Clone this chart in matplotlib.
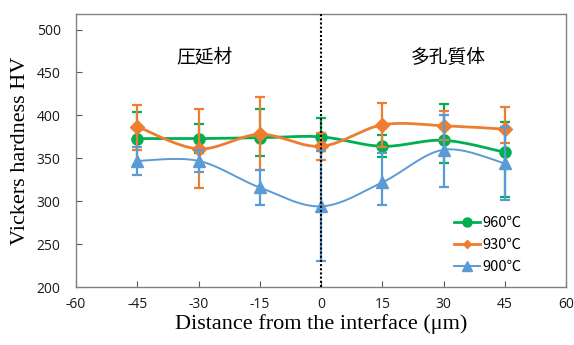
import numpy as np
import matplotlib
matplotlib.use("Agg")
import matplotlib.pyplot as plt

plt.rcParams["axes.unicode_minus"] = False

# ---- data ----
distance = [-45, -30, -15, 0, 15, 30, 45]

hv_960 = [373, 373, 374, 375, 364, 371, 357]
err_960_lo = [31, 17, 21, 16, 13, 27, 52]
err_960_hi = [31, 17, 33, 22, 13, 42, 35]

hv_930 = [387, 361, 378, 364, 389, 388, 384]
err_930_lo = [27, 46, 42, 16, 26, 17, 16]
err_930_hi = [25, 46, 43, 16, 26, 17, 26]

hv_900 = [347, 347, 316, 294, 322, 360, 344]
err_900_lo = [16, 13, 20, 64, 26, 44, 43]
err_900_hi = [16, 13, 20, 64, 34, 41, 43]

series_labels = ["960\u2103", "930\u2103", "900\u2103"]
x_ticks = [-60, -45, -30, -15, 0, 15, 30, 45, 60]
y_ticks = [200, 250, 300, 350, 400, 450, 500]
region_left = "圧延材"
region_right = "多孔質体"
xlabel = "Distance from the interface (\u03bcm)"
ylabel = "Vickers hardness HV"


def smooth(xs, ys, n=30):
    """Excel-like smoothed line (Catmull-Rom via cubic Bezier)."""
    P = np.column_stack([xs, ys]).astype(float)
    out = [P[0]]
    m = len(P)
    for i in range(m - 1):
        p0 = P[i - 1] if i > 0 else P[i]
        p1 = P[i]
        p2 = P[i + 1]
        p3 = P[i + 2] if i + 2 < m else P[i + 1]
        c1 = p1 + (p2 - p0) / 6.0
        c2 = p2 - (p3 - p1) / 6.0
        t = np.linspace(0, 1, n)[1:, None]
        seg = ((1 - t) ** 3) * p1 + 3 * ((1 - t) ** 2) * t * c1 + 3 * (1 - t) * t ** 2 * c2 + t ** 3 * p2
        out.extend(seg)
    out = np.array(out)
    return out[:, 0], out[:, 1]


fig = plt.figure(figsize=(5.74, 3.45), dpi=100)
ax = fig.add_axes([0.1324, 0.168, 0.854, 0.791])

colors = ["#00B050", "#ED7D31", "#5B9BD5"]
markers = ["o", "D", "^"]
msizes = [8, 7.5, 8]
lws = [2.0, 2.0, 1.4]
ys_all = [hv_960, hv_930, hv_900]
lo_all = [err_960_lo, err_930_lo, err_900_lo]
hi_all = [err_960_hi, err_930_hi, err_900_hi]

handles = []
for k in range(3):
    sx, sy = smooth(distance, ys_all[k])
    ax.plot(sx, sy, color=colors[k], lw=lws[k], zorder=3 + k)
    ax.errorbar(distance, ys_all[k], yerr=[lo_all[k], hi_all[k]], fmt="none",
                ecolor=colors[k], elinewidth=1.6, capsize=3.5, capthick=1.6,
                zorder=3 + k)
    ax.plot(distance, ys_all[k], linestyle="none", marker=markers[k],
            markersize=msizes[k], color=colors[k], zorder=3 + k)
    h, = ax.plot([], [], color=colors[k], lw=lws[k], marker=markers[k],
                 markersize=[6.5, 4.5, 7][k], label=series_labels[k])
    handles.append(h)

ax.axvline(0, color="black", linestyle=(0, (1, 1)), lw=1.5, zorder=10)

ax.set_xlim(-60, 60)
ax.set_ylim(200, 518)
ax.set_xticks(x_ticks)
ax.set_yticks(y_ticks)
ax.tick_params(direction="in", length=4, width=0.8, colors="#595959",
               labelcolor="#1a1a1a", labelsize=10)
ax.tick_params(axis="x", pad=7)
ax.tick_params(axis="y", pad=11)
for lab in ax.get_xticklabels() + ax.get_yticklabels():
    lab.set_family(["Open Sans", "DejaVu Sans"])
for sp in ax.spines.values():
    sp.set_color("#808080")
    sp.set_linewidth(1.0)

ax.set_xlabel(xlabel, family="Liberation Serif", fontsize=16, labelpad=2)
ax.set_ylabel(ylabel, family="Liberation Serif", fontsize=16, labelpad=5)

ax.text(-28.5, 468, region_left, family=["Noto Sans CJK JP", "DejaVu Sans"],
        fontsize=13.5, ha="center", va="center")
ax.text(31.2, 468, region_right, family=["Noto Sans CJK JP", "DejaVu Sans"],
        fontsize=13.5, ha="center", va="center")

leg = ax.legend(handles=handles, loc="lower right", bbox_to_anchor=(0.935, 0.0),
                frameon=False, handlelength=1.8, handletextpad=0.15,
                labelspacing=0.55, prop={"family": ["Noto Sans CJK JP", "DejaVu Sans"], "size": 10.5})

fig.savefig("out.png", dpi=100)
